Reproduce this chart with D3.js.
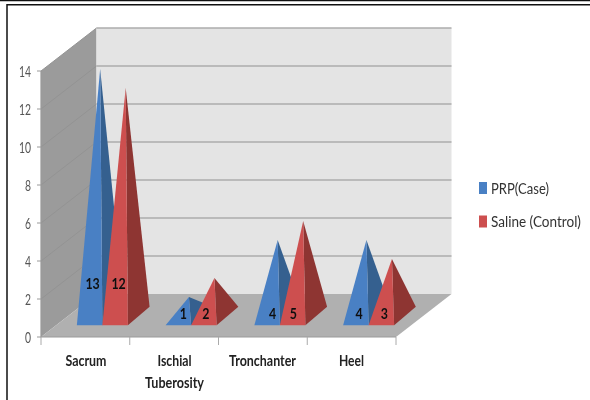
<!DOCTYPE html>
<html><head><meta charset="utf-8">
<style>html,body{margin:0;padding:0;background:#fff}svg{display:block}text{font-family:Lato,"Open Sans",sans-serif}</style>
<script src="https://cdn.jsdelivr.net/npm/d3@7"></script></head>
<body><svg id="c" width="590" height="400"></svg>
<script>
const categories = ["Sacrum", "Ischial Tuberosity", "Tronchanter", "Heel"];
const seriesNames = ["PRP(Case)", "Saline (Control)"];
const prp = [13, 1, 4, 4];
const saline = [12, 2, 5, 3];
const yTicks = [0, 2, 4, 6, 8, 10, 12, 14];
const seriesColors = [["#4a80c4", "#35608f"], ["#cd5050", "#8e3432"]];

const svg = d3.select("#c");
const blur = svg.append("defs").append("filter").attr("id", "soft");
blur.append("feGaussianBlur").attr("stdDeviation", 0.5);
const g = svg.append("g").attr("filter", "url(#soft)");

const depth = {x: 55.5, y: -43};
const y = d3.scaleLinear().domain([0, 14]).range([337, 71]);
const x0 = d3.scaleBand().domain(categories).range([41, 396]).paddingInner(0.425).paddingOuter(0.2125);
const x1 = d3.scaleBand().domain(seriesNames).range([0, x0.bandwidth()]);
const tickX = d3.scaleLinear().domain([0, categories.length]).range([41, 396]);
const line = d3.line();

// walls and floor
const back = (px, py) => [px + depth.x, py + depth.y];
g.append("path").attr("fill", "#9b9b9b").attr("d", line([[41, y(14)], back(41, y(14)), back(41, y(0)), [41, y(0)]]) + "Z");
g.append("path").attr("fill", "#e4e4e4").attr("d", line([back(41, y(14)), back(396, y(14)), back(396, y(0)), back(41, y(0))]) + "Z");
g.append("path").attr("fill", "#b0b0b0").attr("d", line([[41, y(0)], back(41, y(0)), back(396, y(0)), [396, y(0)]]) + "Z");

// gridlines on walls
yTicks.forEach(t => {
  if (t > 0) g.append("path").attr("fill", "none").attr("stroke", "#939393").attr("stroke-width", 1)
    .attr("d", line([[41, y(t)], back(41, y(t))]));
  if (t > 0) g.append("path").attr("fill", "none").attr("stroke", "#adadad").attr("stroke-width", 1.6)
    .attr("d", line([back(41, y(t)), back(396, y(t))]));
});

// axes
g.append("path").attr("stroke", "#999").attr("stroke-width", 1.2).attr("fill", "none")
  .attr("d", line([[41, y(14)], [41, y(0)], [396, y(0)]]));
yTicks.forEach(t => {
  g.append("path").attr("stroke", "#999").attr("d", line([[37, y(t)], [41, y(t)]]));
  g.append("text").attr("x", 31).attr("y", y(t) + 5.5).attr("text-anchor", "end")
    .attr("font-size", 15).attr("fill", "#555")
    .attr("textLength", String(t).length * 6).attr("lengthAdjust", "spacingAndGlyphs").text(t);
});
d3.range(categories.length + 1).forEach(i => {
  g.append("path").attr("stroke", "#aaa").attr("d", line([[tickX(i), y(0)], [tickX(i), y(0) + 8]]));
});

// pyramids
const baseY = 325.3, baseMid = 316, dpX = 21.7, dpY = -18.6, lift = 17;
const values = [prp, saline];
const labelNudge = [[3, 5, 5.6, 3.3], [3.5, 2, 0.7, 3]];
categories.forEach((c, ci) => {
  seriesNames.forEach((s, si) => {
    const v = values[si][ci];
    const l = x0(c) + x1(s) + lift, r = l + x1.bandwidth();
    const apex = [(l + r) / 2 + dpX / 2 - 0.3, baseMid - (y(0) - y(v))];
    g.append("path").attr("fill", seriesColors[si][1])
      .attr("d", line([[r, baseY], [r + dpX, baseY + dpY], apex]) + "Z");
    g.append("path").attr("fill", seriesColors[si][0])
      .attr("d", line([[l, baseY], [r, baseY], apex]) + "Z");
    g.append("text").attr("x", (l + r) / 2 + labelNudge[si][ci]).attr("y", v > 6 ? 288.5 : 319)
      .attr("text-anchor", "middle").attr("font-size", 15.5).attr("font-weight", 700).attr("fill", "#111")
      .attr("textLength", String(v).length * 7.2).attr("lengthAdjust", "spacingAndGlyphs").text(v);
  });
});

// category labels
const catLines = [["Sacrum"], ["Ischial", "Tuberosity"], ["Tronchanter"], ["Heel"]];
const catWidths = [[41], [34, 59], [67], [25]];
const catCx = [86, 174.5, 262.5, 351.5];
categories.forEach((c, i) => {
  catLines[i].forEach((t, k) => {
    g.append("text").attr("x", catCx[i]).attr("y", 366 + k * 22).attr("text-anchor", "middle")
      .attr("font-size", 14.5).attr("font-weight", 700).attr("fill", "#222")
      .attr("textLength", catWidths[i][k]).attr("lengthAdjust", "spacingAndGlyphs").text(t);
  });
});

// legend
const legendWidths = [58, 90];
seriesNames.forEach((s, i) => {
  const ly = 188 + i * 33.5;
  g.append("rect").attr("x", 479).attr("y", ly - 6).attr("width", 8).attr("height", 12).attr("fill", seriesColors[i][0]);
  g.append("text").attr("x", 491).attr("y", ly + 5.5).attr("font-size", 14.5).attr("fill", "#333")
    .attr("textLength", legendWidths[i]).attr("lengthAdjust", "spacingAndGlyphs").text(s);
});

// frame
const f = svg.append("g").attr("fill", "none").attr("stroke", "#111");
f.append("path").attr("stroke-width", 1.5).attr("d", line([[0, 0.5], [590, 0.5]]));
f.append("path").attr("stroke-width", 1.5).attr("d", line([[7, 400], [7, 4.8], [590, 4.8]]));
</script></body></html>
